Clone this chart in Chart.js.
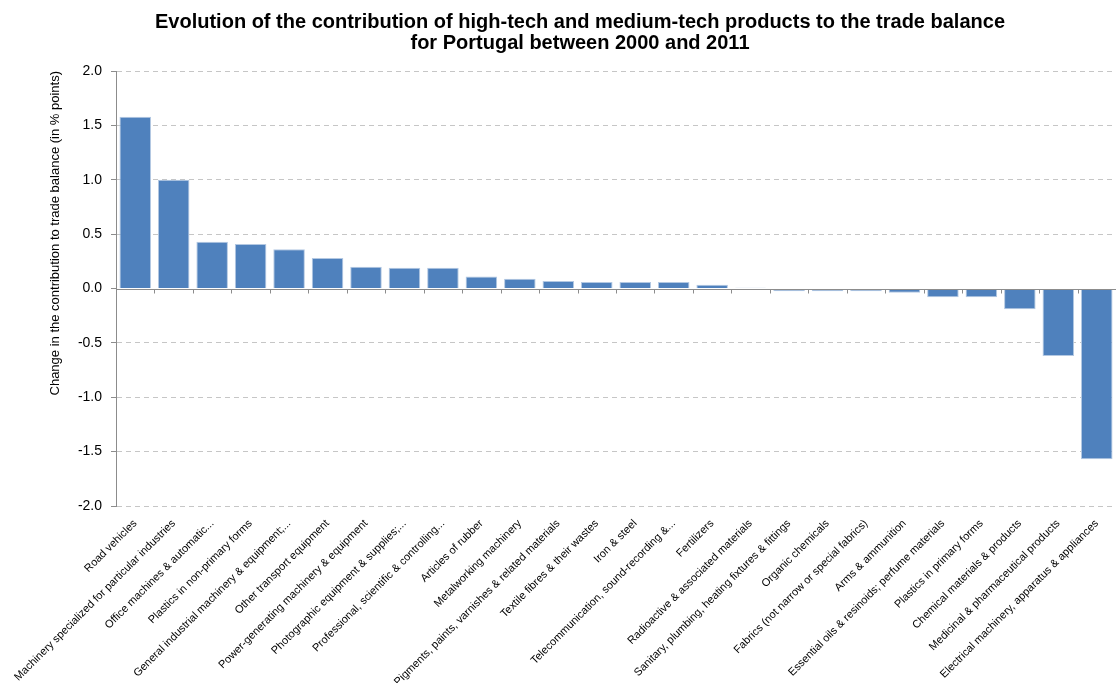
<!DOCTYPE html>
<html>
<head>
<meta charset="utf-8">
<script src="https://cdn.jsdelivr.net/npm/chart.js@4.4.1/dist/chart.umd.min.js"></script>
<style>
  html, body { margin: 0; padding: 0; background: #fff; }
  #wrap { width: 1116px; height: 683px; }
</style>
</head>
<body>
<div id="wrap"><canvas id="tradeChart" width="1116" height="683"></canvas></div>
<script>
// Products (sorted by change in contribution to trade balance, 2000-2011)
const categories = [
  'Road vehicles',
  'Machinery specialized for particular industries',
  'Office machines & automatic...',
  'Plastics in non-primary forms',
  'General industrial machinery & equipment;...',
  'Other transport equipment',
  'Power-generating machinery & equipment',
  'Photographic equipment & supplies;...',
  'Professional, scientific & controlling...',
  'Articles of rubber',
  'Metalworking machinery',
  'Pigments, paints, varnishes & related materials',
  'Textile fibres & their wastes',
  'Iron & steel',
  'Telecommunication, sound-recording &...',
  'Fertilizers',
  'Radioactive & associated materials',
  'Sanitary, plumbing, heating fixtures & fittings',
  'Organic chemicals',
  'Fabrics (not narrow or special fabrics)',
  'Arms & ammunition',
  'Essential oils & resinoids; perfume materials',
  'Plastics in primary forms',
  'Chemical materials & products',
  'Medicinal & pharmaceutical products',
  'Electrical machinery, apparatus & appliances'
];

// Change in % points
const changeValues = [
  1.58, 1.00, 0.43, 0.41, 0.36, 0.28, 0.20, 0.19, 0.19, 0.11,
  0.09, 0.07, 0.06, 0.06, 0.06, 0.035, 0.008, -0.025, -0.025, -0.025,
  -0.04, -0.08, -0.08, -0.19, -0.62, -1.57
];

const yMin = -2.0;
const yMax = 2.0;
const yStep = 0.5;

// zero line + category tick marks, drawn from the scales
const zeroLinePlugin = {
  id: 'zeroLine',
  afterDatasetsDraw(chart) {
    const { ctx, chartArea, scales } = chart;
    const y0 = Math.round(scales.y.getPixelForValue(0)) + 0.5;
    ctx.save();
    ctx.strokeStyle = '#8c8c8c';
    ctx.lineWidth = 1;
    ctx.beginPath();
    ctx.moveTo(chartArea.left, y0);
    ctx.lineTo(chartArea.right, y0);
    for (let i = 0; i <= categories.length; i++) {
      const x = Math.round(scales.x.getPixelForValue(i - 0.5)) + 0.5;
      ctx.moveTo(x, y0);
      ctx.lineTo(x, y0 + 4);
    }
    ctx.stroke();
    ctx.restore();
  }
};

const ctx = document.getElementById('tradeChart').getContext('2d');
new Chart(ctx, {
  type: 'bar',
  data: {
    labels: categories,
    datasets: [{
      data: changeValues,
      backgroundColor: '#4F81BD',
      borderColor: '#B3C8E2',
      borderWidth: 1,
      barPercentage: 0.82,
      categoryPercentage: 1.0
    }]
  },
  plugins: [zeroLinePlugin],
  options: {
    responsive: false,
    animation: false,
    layout: { padding: { left: 44, right: 0, top: 0, bottom: 0 } },
    plugins: {
      legend: { display: false },
      tooltip: { enabled: false },
      title: {
        display: true,
        text: [
          'Evolution of the contribution of high-tech and medium-tech products to the trade balance',
          'for Portugal between 2000 and 2011'
        ],
        color: '#000',
        font: { family: 'Liberation Sans, Arial, sans-serif', size: 20, weight: 'bold', lineHeight: 1.05 },
        padding: { top: 12, bottom: 17 }
      }
    },
    scales: {
      x: {
        grid: { display: false },
        border: { display: false },
        ticks: {
          autoSkip: false,
          minRotation: 45,
          maxRotation: 45,
          color: '#000',
          padding: 3,
          font: { family: 'Liberation Sans, Arial, sans-serif', size: 11 }
        },
        afterFit(scale) { scale.height = 177; }
      },
      y: {
        min: yMin,
        max: yMax,
        ticks: {
          stepSize: yStep,
          color: '#000',
          padding: 9,
          font: { family: 'Liberation Sans, Calibri, sans-serif', size: 14 },
          callback: v => Number(v).toFixed(1)
        },
        grid: {
          color: c => (c.tick && c.tick.value === 0) ? 'rgba(0,0,0,0)' : '#c6c6c6',
          tickColor: '#8c8c8c',
          tickLength: 5,
          lineWidth: 1
        },
        border: { display: true, color: '#8c8c8c', dash: [5, 4] },
        title: {
          display: true,
          align: 'end',
          text: 'Change in the contribution to trade balance (in % points)',
          color: '#000',
          font: { family: 'Liberation Sans, Arial, sans-serif', size: 13 },
          padding: { top: 4, bottom: 4 }
        },
        afterFit(scale) { scale.width = 72; }
      }
    }
  }
});
</script>
</body>
</html>
